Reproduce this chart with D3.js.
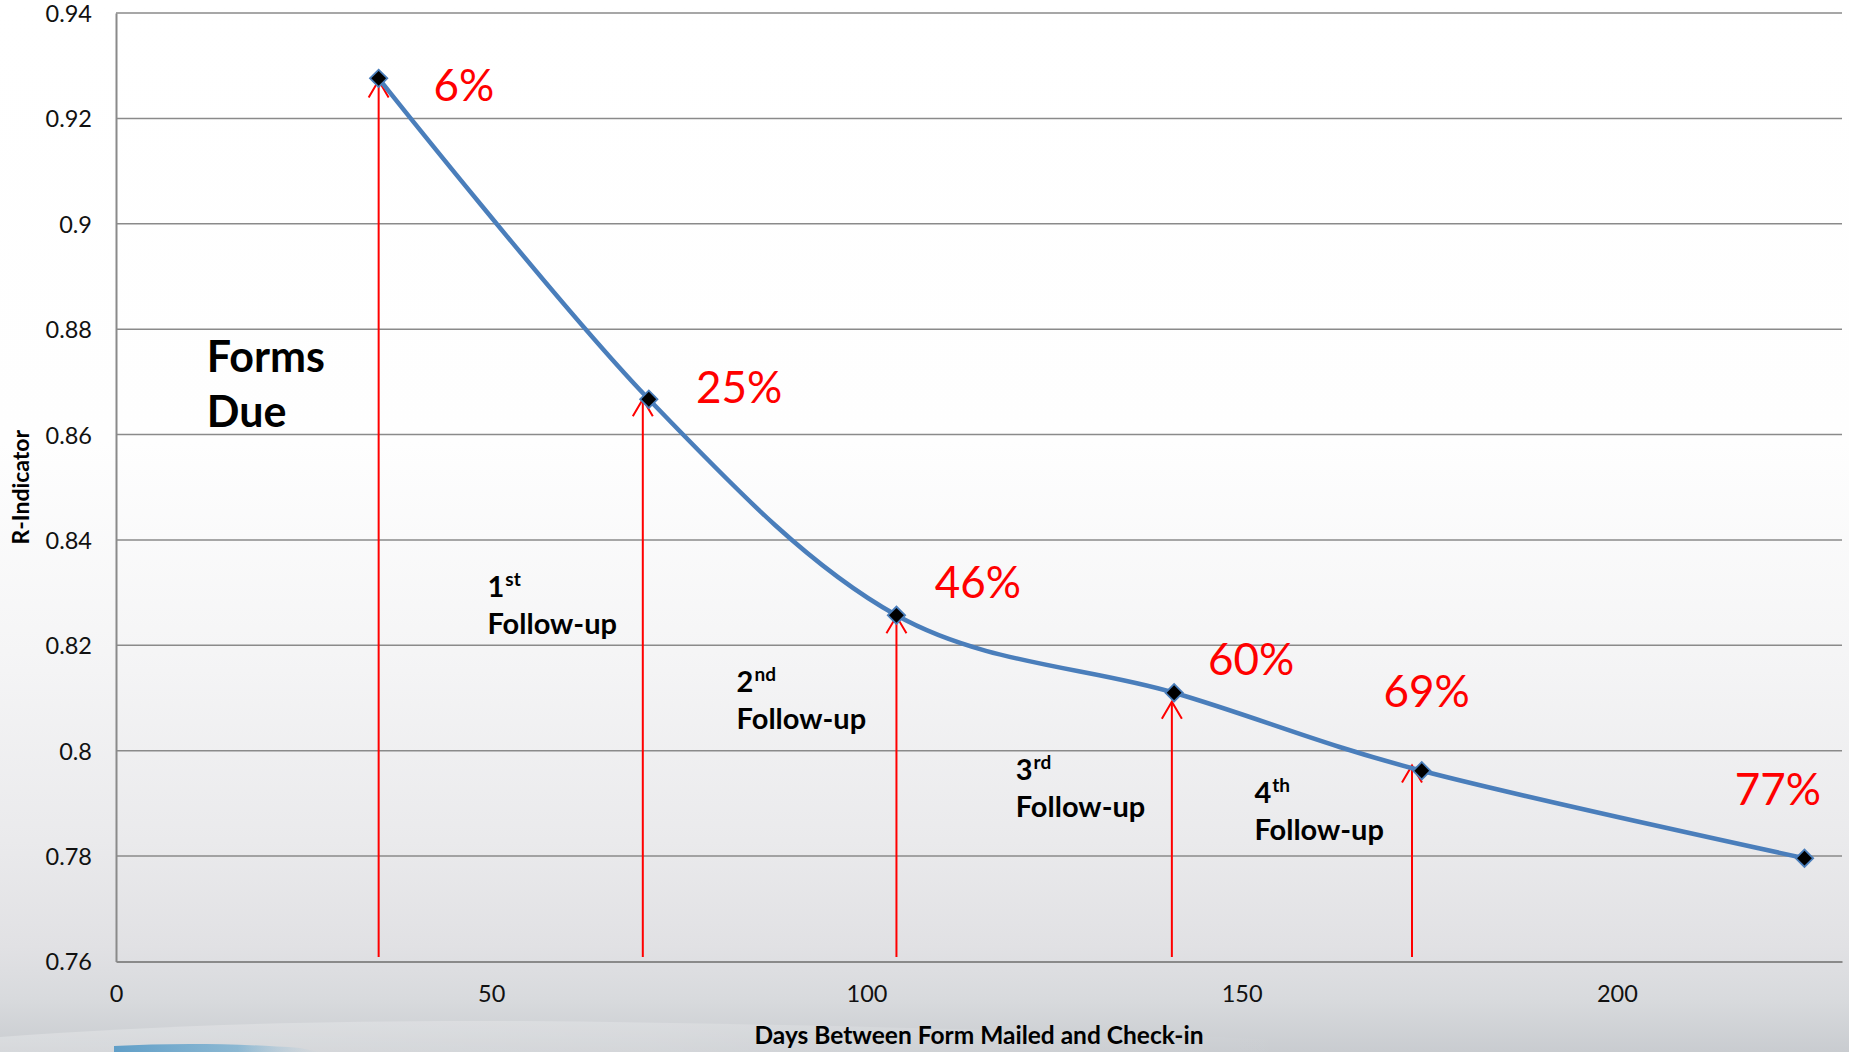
<!DOCTYPE html>
<html>
<head>
<meta charset="utf-8">
<script src="https://cdn.jsdelivr.net/npm/d3@7"></script>
<style>
  html, body { margin: 0; padding: 0; background: #ffffff; }
  svg { display: block; }
  text { font-family: Lato, "Open Sans", "Noto Sans", sans-serif; }
</style>
</head>
<body>
<svg id="chart" width="1849" height="1052"></svg>
<script>
// ---- data ----------------------------------------------------------------
// R-indicator by days between form mailed and check-in
const days      = [35, 71, 104, 141, 174, 225];
const rIndicator = [0.9276, 0.8667, 0.8257, 0.8110, 0.7962, 0.7796];
const responseRates = ["6%", "25%", "46%", "60%", "69%", "77%"];
// label anchors (day, R-indicator) for the response-rate labels
const rateLabelDay   = [42.3, 77.3, 109.1, 145.5, 168.9, 215.7];
const rateLabelValue = [0.9233, 0.8659, 0.8290, 0.8144, 0.8083, 0.7897];

// mailing events drawn as arrows rising from the axis
const eventDays      = [35, 70.2, 104, 140.7, 172.7];
const eventTipValues = [0.9272, 0.8667, 0.8255, 0.8093, 0.7972];
const eventNames     = ["Forms Due", "1", "2", "3", "4"];
const eventSuffix    = ["", "st", "nd", "rd", "th"];
const eventLabelDay   = [12.1, 49.5, 82.7, 119.9, 151.7];
const eventLabelValue = [0.8719, 0.8292, 0.8112, 0.7944, 0.7900];

const xTicks = [0, 50, 100, 150, 200];
const yTicks = [0.76, 0.78, 0.8, 0.82, 0.84, 0.86, 0.88, 0.9, 0.92, 0.94];
const xTitle = "Days Between Form Mailed and Check-in";
const yTitle = "R-Indicator";

// ---- layout ----------------------------------------------------------------
const W = 1849, H = 1052;
const plot = { left: 116, right: 1842, top: 13, bottom: 961.5 };
const svg = d3.select("#chart");

const x = d3.scaleLinear().domain([0, 230]).range([plot.left, plot.right]);
const y = d3.scaleLinear().domain([0.76, 0.94]).range([plot.bottom, plot.top]);

// ---- slide background ------------------------------------------------------
const defs = svg.append("defs");
const bg = defs.append("linearGradient").attr("id", "bg")
  .attr("x1", 0).attr("y1", 0).attr("x2", 0).attr("y2", 1);
[[0, "#ffffff"], [0.42, "#fefefe"], [0.62, "#f5f5f6"], [0.8, "#eaeaec"],
 [0.9, "#e1e1e4"], [0.95, "#d8dadd"], [1, "#c9ccd0"]]
  .forEach(([o, c]) => bg.append("stop").attr("offset", o).attr("stop-color", c));
svg.append("rect").attr("width", W).attr("height", H).attr("fill", "url(#bg)");

// decorative swoosh along the bottom edge
const haze = defs.append("linearGradient").attr("id", "haze")
  .attr("x1", 0).attr("y1", 0).attr("x2", 1).attr("y2", 0);
haze.append("stop").attr("offset", 0).attr("stop-color", "#ffffff").attr("stop-opacity", 0.25);
haze.append("stop").attr("offset", 0.5).attr("stop-color", "#ffffff").attr("stop-opacity", 0.2);
haze.append("stop").attr("offset", 1).attr("stop-color", "#ffffff").attr("stop-opacity", 0);
const swoosh = defs.append("linearGradient").attr("id", "swoosh")
  .attr("x1", 0).attr("y1", 0).attr("x2", 1).attr("y2", 0);
swoosh.append("stop").attr("offset", 0).attr("stop-color", "#4b94c4").attr("stop-opacity", 0.85);
swoosh.append("stop").attr("offset", 0.6).attr("stop-color", "#5aa2cc").attr("stop-opacity", 0.6);
swoosh.append("stop").attr("offset", 1).attr("stop-color", "#9cc4dc").attr("stop-opacity", 0);
svg.append("path")
  .attr("d", "M0,1037 C160,1025 330,1020 520,1021 C760,1023 1000,1030 1300,1040 L1300,1052 L0,1052 Z")
  .attr("fill", "url(#haze)");
svg.append("path")
  .attr("d", "M114,1046 C170,1043 230,1043 300,1048 L320,1052 L114,1052 Z")
  .attr("fill", "url(#swoosh)");

// ---- grid and axes -----------------------------------------------------------
svg.append("g")
  .selectAll("line").data(yTicks.filter(t => t > 0.76)).join("line")
  .attr("x1", plot.left).attr("x2", plot.right)
  .attr("y1", d => y(d)).attr("y2", d => y(d))
  .attr("stroke", "#8a8a8a").attr("stroke-width", 1.5);

const yAxis = svg.append("g").attr("transform", `translate(${plot.left},0)`)
  .call(d3.axisLeft(y).tickValues(yTicks).tickSize(0).tickPadding(24)
    .tickFormat(d => d3.format("")(+d.toFixed(2))));
const xAxis = svg.append("g").attr("transform", `translate(0,${plot.bottom})`)
  .call(d3.axisBottom(x).tickValues(xTicks).tickSize(0).tickPadding(24));
[yAxis, xAxis].forEach(g => {
  g.select(".domain").attr("stroke", "#8a8a8a").attr("stroke-width", 2);
  g.selectAll("text").attr("font-size", 23.5).attr("fill", "#111")
    .style("font-family", "Lato, 'Open Sans', sans-serif");
});
yAxis.selectAll("text").attr("dy", "0.36em");
xAxis.selectAll("text").attr("dy", "0.71em");

svg.append("text")
  .attr("x", (plot.left + plot.right) / 2).attr("y", 1044)
  .attr("text-anchor", "middle").attr("font-size", 24.5).attr("font-weight", 700)
  .attr("fill", "#000").text(xTitle);
svg.append("text")
  .attr("transform", `translate(29,${(plot.top + plot.bottom) / 2}) rotate(-90)`)
  .attr("text-anchor", "middle").attr("font-size", 23).attr("font-weight", 700)
  .attr("fill", "#000").text(yTitle);

// ---- event arrows --------------------------------------------------------------
const arrows = svg.append("g").attr("stroke", "#ff0000").attr("stroke-width", 2)
  .attr("fill", "none");
eventDays.forEach((d, i) => {
  const px = x(d), tip = y(eventTipValues[i]);
  arrows.append("line").attr("x1", px).attr("x2", px)
    .attr("y1", plot.bottom - 4.5).attr("y2", tip);
  arrows.append("path")
    .attr("d", `M${px - 10},${tip + 17} L${px},${tip} L${px + 10},${tip + 17}`);
});

// ---- R-indicator line with markers ---------------------------------------------
const series = days.map((d, i) => ({ day: d, r: rIndicator[i] }));
const line = d3.line().x(d => x(d.day)).y(d => y(d.r))
  .curve(d3.curveCardinal.tension(0));
svg.append("path").datum(series).attr("d", line)
  .attr("fill", "none").attr("stroke", "#4a7ebb").attr("stroke-width", 4.5)
  .attr("stroke-linejoin", "round");

const marker = d3.symbol().type(d3.symbolSquare).size(150);
svg.append("g").selectAll("path").data(series).join("path")
  .attr("d", marker)
  .attr("transform", d => `translate(${x(d.day)},${y(d.r)}) rotate(45)`)
  .attr("fill", "#000").attr("stroke", "#4a7ebb").attr("stroke-width", 1.8);

// ---- response-rate labels ------------------------------------------------------
svg.append("g").selectAll("text").data(responseRates).join("text")
  .attr("x", (d, i) => x(rateLabelDay[i]))
  .attr("y", (d, i) => y(rateLabelValue[i]))
  .attr("font-size", 44).attr("fill", "#ff0000")
  .text(d => d);

// ---- event labels ---------------------------------------------------------------
eventNames.forEach((name, i) => {
  const px = x(eventLabelDay[i]), py = y(eventLabelValue[i]);
  if (i === 0) {
    const t = svg.append("text").attr("x", px).attr("y", py)
      .attr("font-size", 43).attr("font-weight", 700).attr("fill", "#000");
    name.split(" ").forEach((w, k) => {
      t.append("tspan").attr("x", px).attr("y", py + k * 55).text(w);
    });
  } else {
    const t = svg.append("text").attr("x", px).attr("y", py)
      .attr("font-weight", 700).attr("fill", "#000");
    t.append("tspan").attr("font-size", 29).text(name);
    t.append("tspan").attr("font-size", 19).attr("dy", -11).attr("dx", 1)
      .text(eventSuffix[i]);
    t.append("tspan").attr("font-size", 29).attr("x", px).attr("y", py + 37)
      .text("Follow-up");
  }
});
</script>
</body>
</html>
